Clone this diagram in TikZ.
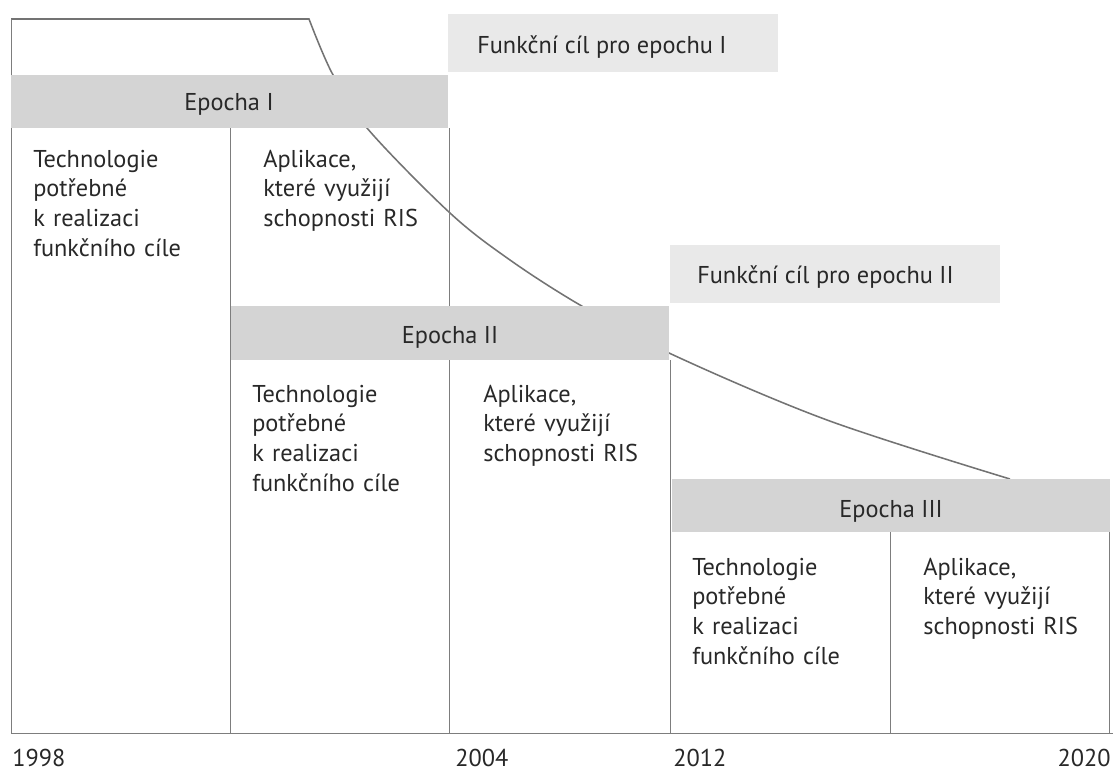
\documentclass[tikz,border=0pt]{standalone}
\usepackage{fontspec}
\setmainfont{PT Sans}
\usepackage{tikz}
\usetikzlibrary{positioning}
\usetikzlibrary{calc}

\definecolor{bandgray}{RGB}{212,212,212}
\definecolor{goalgray}{RGB}{233,233,233}
\definecolor{linegray}{RGB}{125,125,125}
\definecolor{curvegray}{RGB}{115,115,115}
\definecolor{inkgray}{RGB}{40,40,40}

\begin{document}
\begin{tikzpicture}[x=0.025cm, y=-0.025cm,
	every node/.style={inner sep=0pt, text=inkgray, font=\fontsize{17.3}{21.3}\selectfont},
	cell/.style={anchor=base west, text width=4.9cm, align=left},
	epo/.style={anchor=base},
	year/.style={anchor=base west},
	frame/.style={draw=linegray, line width=0.5pt},
	goalcurve/.style={draw=curvegray, line width=1.1pt}]
\useasboundingbox (0,0) rectangle (1113,776);

% goal curve (hidden behind the bands)
\draw[goalcurve] (11,19) -- (309,19) -- plot[smooth, tension=0.55] coordinates
	{(309,19) (332,73) (367,128) (450,213) (510,260) (580,305) (669,353) (827,420) (1010,479)};

% frame
\draw[frame] (11,19) -- (11,733) -- (1113,733);
\draw[frame] (230,128) -- (230,733);
\draw[frame] (449,128) -- (449,733);
\draw[frame] (670,360) -- (670,733);
\draw[frame] (890,532) -- (890,733);
\draw[frame] (1109,532) -- (1109,733);

% bands
\fill[bandgray] (11,75) rectangle (448,128);
\fill[bandgray] (231,306) rectangle (669,360);
\fill[bandgray] (672,479) rectangle (1110,532);
\fill[goalgray] (448,14) rectangle (778,72);
\fill[goalgray] (670,245) rectangle (1000,303);

\node[epo] (epoch1) at (229,110) {Epocha I};
\node[epo] (epoch2) at (450,343) {Epocha II};
\node[epo] (epoch3) at (891,517) {Epocha III};

\node[year] (goal1) at (477,53) {Funkční cíl pro epochu I};
\node[year] (goal2) at (697,283) {Funkční cíl pro epochu II};

\node[cell] (tech1) at (33,167) {Technologie\\potřebné\\k realizaci\\funkčního cíle};
\node[cell] (app1) at (263,167) {Aplikace,\\které využijí\\schopnosti RIS};
\node[cell] (tech2) at (252,402) {Technologie\\potřebné\\k realizaci\\funkčního cíle};
\node[cell] (app2) at (483,402) {Aplikace,\\které využijí\\schopnosti RIS};
\node[cell] (tech3) at (692,575) {Technologie\\potřebné\\k realizaci\\funkčního cíle};
\node[cell] (app3) at (923,575) {Aplikace,\\které využijí\\schopnosti RIS};

\node[year] (y1998) at (12,766) {1998};
\node[year] (y2004) at (455,766) {2004};
\node[year] (y2012) at (673,766) {2012};
\node[year, anchor=base east] (y2020) at (1111,766) {2020};
\end{tikzpicture}
\end{document}
